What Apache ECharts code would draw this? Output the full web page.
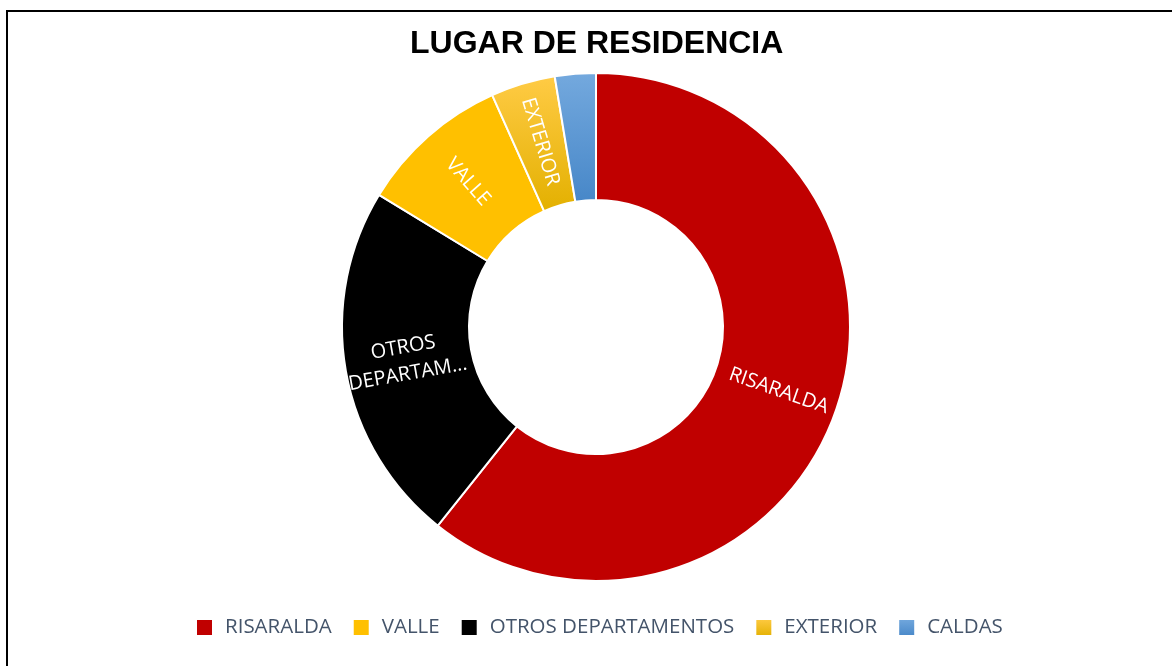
<!DOCTYPE html>
<html>
<head>
<meta charset="utf-8">
<script src="https://cdn.jsdelivr.net/npm/echarts@6/dist/echarts.min.js"></script>
<style>
  html, body { margin: 0; padding: 0; background: #fff; }
  #chart { position: absolute; left: 0; top: 0; width: 1172px; height: 666px; }
  .frame { position: absolute; left: 6px; top: 10px; width: 1172px; height: 666px;
           border-left: 2px solid #000; border-top: 2px solid #000; pointer-events: none; }
</style>
</head>
<body>
<div id="chart"></div>
<div class="frame"></div>
<script>
// datos (porcentajes aproximados)
const categories = ['RISARALDA', 'VALLE', 'OTROS DEPARTAMENTOS', 'EXTERIOR', 'CALDAS'];
const values = [60.7, 9.6, 23.0, 4.1, 2.6];
// orden en la dona (sentido horario desde arriba)
const ringOrder = ['RISARALDA', 'OTROS DEPARTAMENTOS', 'VALLE', 'EXTERIOR', 'CALDAS'];

const grad = (top, bottom) => new echarts.graphic.LinearGradient(0, 0, 0, 1, [
  { offset: 0, color: top }, { offset: 1, color: bottom }
]);

const colors = {
  'RISARALDA': '#C00000',
  'VALLE': '#FFC000',
  'OTROS DEPARTAMENTOS': '#000000',
  'EXTERIOR': grad('#FFCB45', '#E3B000'),
  'CALDAS': grad('#74A9DE', '#4787C8')
};

const pieData = ringOrder.map(name => ({
  name: name,
  value: values[categories.indexOf(name)],
  itemStyle: { color: colors[name] }
}));

const chart = echarts.init(document.getElementById('chart'));
chart.setOption({
  animation: false,
  title: {
    text: 'LUGAR DE RESIDENCIA',
    left: 405,
    top: 23,
    textStyle: { fontFamily: 'Liberation Sans', fontSize: 32, fontWeight: 'bold', color: '#000' }
  },
  legend: {
    data: categories,
    bottom: 23,
    left: 190,
    icon: 'rect',
    itemWidth: 17,
    itemHeight: 17,
    itemGap: 20,
    textStyle: { fontFamily: 'Open Sans', fontSize: 20.5, color: '#44546A', padding: [0, 0, 0, 7] }
  },
  series: [{
    type: 'pie',
    center: [596, 327],
    radius: [127, 254],
    startAngle: 90,
    clockwise: true,
    itemStyle: { borderColor: '#fff', borderWidth: 2 },
    label: {
      show: true,
      position: 'inside',
      rotate: 'radial',
      color: '#fff',
      fontFamily: 'Open Sans',
      fontSize: 20,
      lineHeight: 27,
      formatter: p => p.name === 'OTROS DEPARTAMENTOS' ? 'OTROS\nDEPARTAM...' :
                      (p.name === 'CALDAS' ? '' : p.name)
    },
    labelLine: { show: false },
    data: pieData
  }]
});
</script>
</body>
</html>
